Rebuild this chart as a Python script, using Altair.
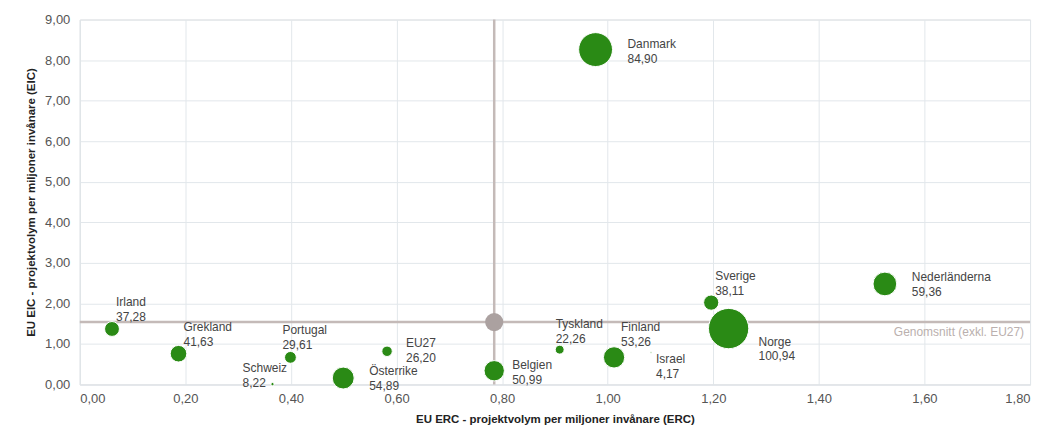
import altair as alt
import pandas as pd

# ---- data ----
countries = ["Irland", "Grekland", "Portugal", "Schweiz", "Österrike", "EU27",
             "Belgien", "Tyskland", "Finland", "Israel", "Sverige", "Norge",
             "Nederländerna", "Danmark"]
erc = [0.061, 0.187, 0.399, 0.365, 0.499, 0.582,
       0.785, 0.909, 1.012, 1.082, 1.196, 1.229,
       1.525, 0.977]
eic = [1.37, 0.76, 0.67, 0.01, 0.16, 0.82,
       0.34, 0.86, 0.67, 0.79, 2.02, 1.38,
       2.48, 8.26]
volume = [37.28, 41.63, 29.61, 8.22, 54.89, 26.20,
          50.99, 22.26, 53.26, 4.17, 38.11, 100.94,
          59.36, 84.90]

avg_erc = [0.785]
avg_eic = [1.54]
avg_label = ["Genomsnitt (exkl. EU27)"]

x_ticks = [0, 0.2, 0.4, 0.6, 0.8, 1.0, 1.2, 1.4, 1.6, 1.8]
y_ticks = [0, 1, 2, 3, 4, 5, 6, 7, 8, 9]

# label placement (pixel offsets, styling only)
label_offsets = {
    "Irland": (4, -32), "Grekland": (5, -32), "Portugal": (-8, -32),
    "Schweiz": (-30, -21), "Österrike": (26, -12), "EU27": (19, -13),
    "Belgien": (18, -11), "Tyskland": (-4, -31), "Finland": (7, -35),
    "Israel": (5, 2), "Sverige": (4, -32), "Norge": (30, 8),
    "Nederländerna": (27, -12), "Danmark": (32, -11),
}

df = pd.DataFrame({"country": countries, "erc": erc, "eic": eic, "volume": volume})
df["label"] = [f"{c}\n{v:.2f}".replace(".", ",") for c, v in zip(countries, volume)]
avg_df = pd.DataFrame({"erc": avg_erc, "eic": avg_eic, "label": avg_label})

FONT = "Liberation Sans"
GREEN = "#2a8a15"
AVG = "#c4bab8"

label_expr = "replace(format(datum.value, '.2f'), '.', ',')"

axis_style = dict(labelExpr=label_expr, grid=True, ticks=False,
                  labelFont=FONT, labelFontSize=13, labelColor="#555555",
                  titleFont=FONT, titleFontSize=11.5, titleFontWeight="bold",
                  titleColor="#222222", gridColor="#e2e7eb", gridWidth=1,
                  domainColor="#dfe4e8")

x_enc = alt.X("erc:Q",
              scale=alt.Scale(domain=[0, 1.8], nice=False, zero=True),
              axis=alt.Axis(values=x_ticks,
                            title="EU ERC - projektvolym per miljoner invånare (ERC)",
                            labelPadding=8, titlePadding=8, **axis_style))
y_enc = alt.Y("eic:Q",
              scale=alt.Scale(domain=[0, 9], nice=False, zero=True),
              axis=alt.Axis(values=y_ticks,
                            title="EU EIC - projektvolym per miljoner invånare (EIC)",
                            labelPadding=10, titlePadding=8, **axis_style))

base = alt.Chart(df)

bubbles = base.mark_circle(color=GREEN, opacity=1, stroke="white", strokeWidth=1).encode(
    x=x_enc,
    y=y_enc,
    size=alt.Size("volume:Q",
                  scale=alt.Scale(type="pow", exponent=2, domain=[0, 100.94], range=[0, 1633]),
                  legend=None),
)

hline = alt.Chart(avg_df).mark_rule(color=AVG, strokeWidth=2.5).encode(y="eic:Q")
vline = alt.Chart(avg_df).mark_rule(color=AVG, strokeWidth=2.5).encode(x="erc:Q")
avg_point = alt.Chart(avg_df).mark_circle(color="#aba1a0", opacity=1, size=333).encode(
    x="erc:Q", y="eic:Q")
avg_text = alt.Chart(avg_df).mark_text(
    align="right", baseline="top", font=FONT, fontSize=12, color="#bab0ae", dy=5
).encode(x=alt.value(947), y="eic:Q", text="label:N")

text_layers = []
for c in countries:
    dx, dy = label_offsets[c]
    text_layers.append(
        base.transform_filter(alt.datum.country == c).mark_text(
            align="left", baseline="top", lineBreak="\n", font=FONT, fontSize=12,
            lineHeight=15, color="#444444", dx=dx, dy=dy
        ).encode(x="erc:Q", y="eic:Q", text="label:N")
    )

chart = alt.layer(hline, vline, bubbles, avg_point, avg_text, *text_layers).properties(
    width=953, height=366,
    autosize=alt.AutoSizeParams(type="none"),
    padding={"left": 72, "top": 11, "right": 20, "bottom": 48},
).configure_view(stroke="#dfe4e8", strokeWidth=1).configure(background="white")

chart.save("out.html", embed_options={"renderer": "svg", "actions": False})
